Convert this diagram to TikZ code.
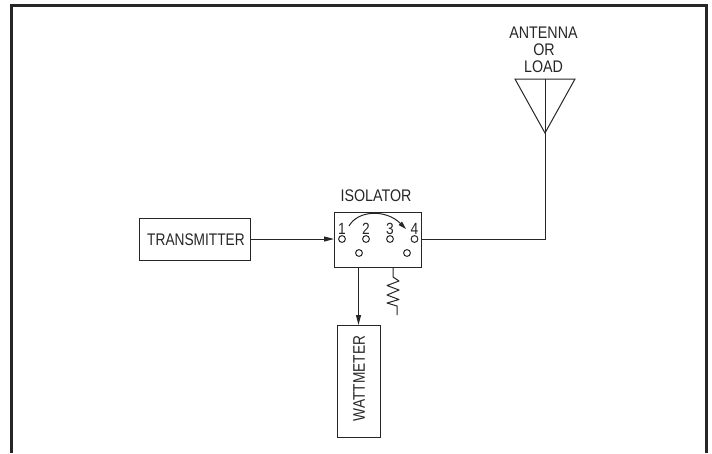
\documentclass[tikz,border=0pt]{standalone}
\usepackage{fontspec}
\setmainfont{Liberation Sans}
\usetikzlibrary{arrows.meta}
\definecolor{ink}{HTML}{262626}
\newcommand{\tl}[1]{\scalebox{1.02}[1.2]{#1}}
\tikzset{
  x=1pt,y=-1pt,
  wire/.style={draw=ink,line width=1pt},
  blockbox/.style={draw=ink,line width=1pt,inner sep=0pt,outer sep=0pt,minimum width=#1},
  txt/.style={inner sep=0pt,text=ink,font=\fontsize{14}{14}\selectfont},
  num/.style={inner sep=0pt,text=ink,font=\fontsize{13.5}{14}\selectfont},
  port/.style={circle,draw=ink,line width=1pt,inner sep=0pt,minimum size=6.8pt,outer sep=0pt},
  tip/.style={-{Triangle[length=10pt,width=5pt]}}
}
\begin{document}
\begin{tikzpicture}
\useasboundingbox (0,0) rectangle (712,453);
\draw[draw=ink,line width=2.6pt] (11.5,453) -- (11.5,5.5) -- (706.5,5.5) -- (706.5,453);
% boxes
\node[blockbox=111.5pt,minimum height=42pt,anchor=north west] (tx) at (139,218) {};
\node[txt] at (196,239.5) {\scalebox{0.98}[1.2]{TRANSMITTER}};
\node[blockbox=87pt,minimum height=55pt,anchor=north west] (iso) at (334,212) {};
\node[txt] (isolabel) at (376,196) {\tl{ISOLATOR}};
\node[blockbox=43pt,minimum height=112pt,anchor=north west] (wm) at (337,325) {};
\node[txt,rotate=90] at (359,378.5) {\scalebox{0.98}[1.2]{WATTMETER}};
% ports
\node[port] (p1) at (342,239) {};
\node[port] (p2) at (366,239) {};
\node[port] (p3) at (390,239) {};
\node[port] (p4) at (414.5,239) {};
\node[port] (p5) at (359,253) {};
\node[port] (p6) at (407,253) {};
\node[num] at (342,228.5) {\tl{1}};
\node[num] at (366,228.5) {\tl{2}};
\node[num] at (390,228.5) {\tl{3}};
\node[num] at (414.5,229) {\tl{4}};
% rotation arrow
\coordinate (arcA) at (349,226);
\coordinate (arcB) at (406,229);
\draw[wire,-{Triangle[length=8pt,width=4.5pt]}] (arcA) .. controls (358,210) and (386,209) .. (arcB);
% connectors
\draw[wire,tip] (tx.east |- 0,239) -- (iso.west |- 0,239);
\coordinate (wmtop) at (358.5,325);
\coordinate (wmsrc) at (358.5,267);
\draw[wire,tip] (wmsrc) -- (wmtop);
% antenna
\coordinate (antL) at (515,79);
\coordinate (antR) at (575,79);
\coordinate (antM) at (545,79);
\coordinate (antA) at (545,133);
\coordinate (corner) at (545,239);
\draw[wire] (antL) -- (antR) -- (antA) -- cycle;
\draw[wire] (antM) -- (corner) -- (iso.east |- corner);
\node[txt] at (543.5,33) {\tl{ANTENNA}};
\node[txt] at (544,49.5) {\tl{OR}};
\node[txt] at (543.5,66.5) {\tl{LOAD}};
% resistor
\coordinate (rs) at (393,267);
\draw[wire,line join=round] (rs) -- (393,277) -- (399,281) -- (387,285.5) -- (399,290) -- (387,295) -- (399,299.5) -- (387,303) -- (397,306) -- (397,315);
\end{tikzpicture}
\end{document}
